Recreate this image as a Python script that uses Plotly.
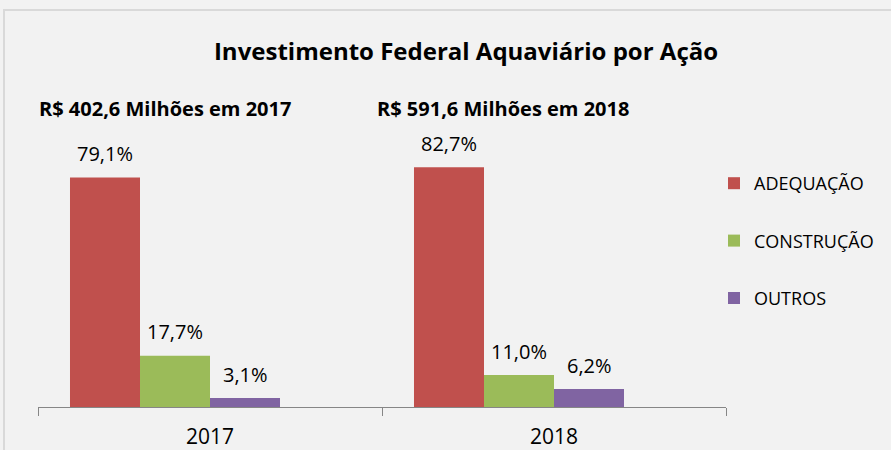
import plotly.graph_objects as go

anos = ["2017", "2018"]
series = ["ADEQUAÇÃO", "CONSTRUÇÃO", "OUTROS"]
valores = {
    "ADEQUAÇÃO": [79.1, 82.7],
    "CONSTRUÇÃO": [17.7, 11.0],
    "OUTROS": [3.1, 6.2],
}
totais = ["R$ 402,6 Milhões em 2017", "R$ 591,6 Milhões em 2018"]
cores = ["#C0504D", "#9BBB59", "#8064A2"]

FONT = "Open Sans"
W, H = 891, 450
ML, MR, MT, MB = 38, 165, 146, 43
PW, PH = W - ML - MR, H - MT - MB
YMAX = 90
BAR_W = 0.2035          # largura da barra em unidades de categoria
BAR_OFF0 = -0.407       # borda esquerda da 1a barra em relação ao centro
TOTAIS_X = [165, 503]   # centro dos subtítulos (px)


def px_x(p):
    return (p - ML) / PW


def px_y(p):
    return (H - MB - p) / PH


fig = go.Figure()
for i, (nome, cor) in enumerate(zip(series, cores)):
    off = BAR_OFF0 + i * BAR_W
    fig.add_trace(go.Bar(
        x=anos, y=valores[nome], name=nome, legendgroup=nome,
        width=BAR_W, offset=off,
        marker=dict(color=cor, line=dict(width=0)),
    ))
    # rótulos de percentual acima das barras
    for j, v in enumerate(valores[nome]):
        fig.add_annotation(
            x=j + off + BAR_W / 2, y=v, xref="x", yref="y",
            text=f"{v:.1f}%".replace(".", ","),
            yshift=24, yanchor="middle",
            showarrow=False, font=dict(size=20, color="#000000"),
        )

# totais por ano
for txt, xc in zip(totais, TOTAIS_X):
    fig.add_annotation(
        x=px_x(xc), xref="paper", y=px_y(108), yref="paper",
        xanchor="center", yanchor="middle", text=f"<b>{txt}</b>",
        showarrow=False, font=dict(size=20, color="#000000"),
    )

# moldura
fig.add_shape(type="rect", xref="paper", yref="paper",
              x0=px_x(4), x1=px_x(W + 20), y0=px_y(H + 20), y1=px_y(10),
              line=dict(color="#D9D9D9", width=2), layer="below")

fig.update_layout(
    width=W, height=H,
    title=dict(text="<b>Investimento Federal Aquaviário por Ação</b>",
               x=466 / W, xanchor="center", y=1 - 52 / H, yanchor="middle",
               font=dict(size=24, color="#000000")),
    barmode="overlay",
    paper_bgcolor="#F2F2F2", plot_bgcolor="#F2F2F2",
    font=dict(family=FONT, color="#000000"),
    margin=dict(l=ML, r=MR, t=MT, b=MB, autoexpand=False),
    legend=dict(x=px_x(714), xanchor="left", y=px_y(165), yanchor="top",
                font=dict(size=18), tracegroupgap=31,
                itemwidth=30, bgcolor="rgba(0,0,0,0)"),
    showlegend=True,
)
fig.update_xaxes(type="category", range=[-0.5, 1.5], autorange=False,
                 showline=True, linecolor="#868686",
                 linewidth=1, ticks="outside", tickson="boundaries",
                 ticklen=8, tickcolor="#868686", tickfont=dict(size=21),
                 ticklabelstandoff=11, showgrid=False)
fig.update_yaxes(range=[0, YMAX], autorange=False, visible=False,
                 showgrid=False)

fig.write_html("out.html", config={"displayModeBar": False},
               post_script="document.body.style.margin='0';")
